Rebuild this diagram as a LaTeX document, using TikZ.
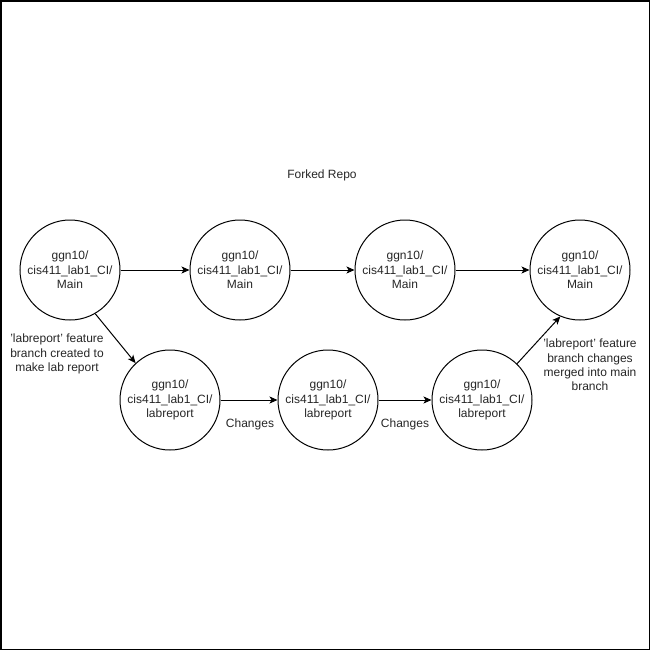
\documentclass[tikz,border=0pt]{standalone}
\usepackage{fontspec}
\setmainfont{Liberation Sans}
\usetikzlibrary{arrows.meta}
\begin{document}
\begin{tikzpicture}[x=1pt,y=-1pt,
  commit/.style={circle,draw,line width=1pt,minimum size=100pt,inner sep=0pt,align=center,font=\fontsize{12pt}{14.4pt}\selectfont,text=black!85},
  lbl/.style={align=center,font=\fontsize{12pt}{14.4pt}\selectfont,text=black!85,inner sep=0pt},
  arr/.style={-{Stealth[length=8pt,width=7pt,inset=2pt]},line width=1pt}]
\useasboundingbox (0,0) rectangle (651,651);
\draw[line width=1.5pt] (0.75,0.75) rectangle (649.5,649.5);
\node[lbl] (title) at (322,175) {Forked Repo};
\node[commit] (m1) at (70,270) {ggn10/\\cis411\_lab1\_CI/\\Main};
\node[commit] (m2) at (240,270) {ggn10/\\cis411\_lab1\_CI/\\Main};
\node[commit] (m3) at (405,270) {ggn10/\\cis411\_lab1\_CI/\\Main};
\node[commit] (m4) at (580,270) {ggn10/\\cis411\_lab1\_CI/\\Main};
\node[commit] (l1) at (170,400) {ggn10/\\cis411\_lab1\_CI/\\labreport};
\node[commit] (l2) at (328,400) {ggn10/\\cis411\_lab1\_CI/\\labreport};
\node[commit] (l3) at (482,400) {ggn10/\\cis411\_lab1\_CI/\\labreport};
\draw[arr] (m1) -- (m2);
\draw[arr] (m2) -- (m3);
\draw[arr] (m3) -- (m4);
\draw[arr] (l1) -- (l2);
\draw[arr] (l2) -- (l3);
\draw[arr] (m1.-60) -- (l1.133);
\draw[arr] (l3.46) -- (m4.247);
\node[lbl] (t1) at (57,354) {'labreport' feature\\branch created to\\make lab report};
\node[lbl] (t2) at (590,365) {'labreport' feature\\branch changes\\merged into main\\branch};
\node[lbl] (c1) at (250,424) {Changes};
\node[lbl] (c2) at (405,424) {Changes};
\end{tikzpicture}
\end{document}
